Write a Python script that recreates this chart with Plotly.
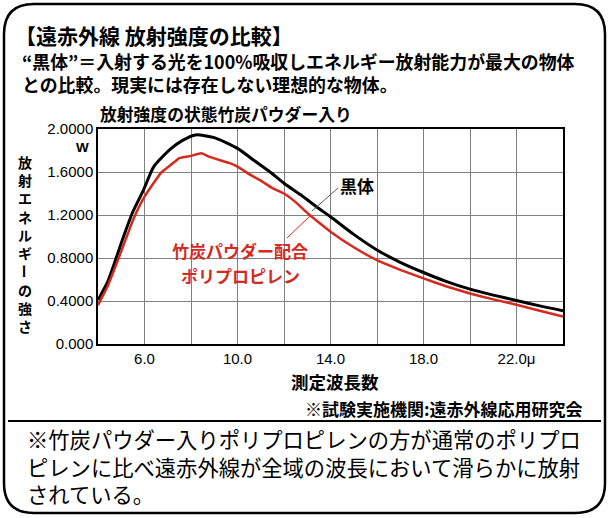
import plotly.graph_objects as go

# ---- data ----
wl_black = [4.0, 4.4, 4.75, 5.1, 5.5, 5.95, 6.4, 7.1, 7.6, 8.2, 9.0, 10.0, 10.7, 11.4,
            12.0, 12.7, 13.5, 14.0, 15.0, 16.0, 17.0, 18.0, 19.0, 20.0, 21.0, 22.0, 23.0, 24.0]
val_black = [0.41, 0.57, 0.78, 1.00, 1.23, 1.43, 1.65, 1.81, 1.89, 1.945, 1.92, 1.82, 1.71, 1.60,
             1.495, 1.39, 1.26, 1.184, 1.02, 0.875, 0.76, 0.665, 0.58, 0.51, 0.455, 0.405, 0.355, 0.31]

wl_red = [4.0, 4.4, 4.75, 5.1, 5.5, 6.0, 6.4, 6.7, 7.1, 7.5, 8.0, 8.45, 8.8, 9.7, 10.0, 10.5,
          11.0, 11.5, 12.0, 12.5, 13.0, 13.5, 14.0, 15.0, 16.0, 17.0, 18.0, 19.0, 20.0, 21.0,
          22.0, 23.0, 24.0]
val_red = [0.36, 0.53, 0.72, 0.92, 1.15, 1.37, 1.50, 1.59, 1.66, 1.73, 1.75, 1.775, 1.74, 1.68,
           1.65, 1.58, 1.52, 1.45, 1.40, 1.32, 1.22, 1.13, 1.045, 0.90, 0.78, 0.69, 0.61, 0.535,
           0.47, 0.415, 0.365, 0.31, 0.255]

x_tickvals = [6, 10, 14, 18, 22]
x_ticktext = ["6.0", "10.0", "14.0", "18.0", "22.0\u03bc"]
x_gridvals = [8, 12, 16, 20]
y_tickvals = [0, 0.4, 0.8, 1.2, 1.6, 2.0]
y_ticktext = ["0.000", "0.4000", "0.8000", "1.2000", "1.6000", "2.0000"]

title_text = "【遠赤外線 放射強度の比較】"
desc_lines = ["“黒体”＝入射する光を100%吸収しエネルギー放射能力が最大の物体",
              "との比較。現実には存在しない理想的な物体。"]
chart_title = "放射強度の状態竹炭パウダー入り"
y_title = "放射エネルギーの強さ"
x_title = "測定波長数"
source_text = "※試験実施機関:遠赤外線応用研究会"
note_lines = ["※竹炭パウダー入りポリプロピレンの方が通常のポリプロ",
              "ピレンに比べ遠赤外線が全域の波長において滑らかに放射",
              "されている。"]
label_black = "黒体"
label_red = ["竹炭パウダー配合", "ポリプロピレン"]

# ---- layout geometry ----
W, H = 610, 518
ML, MR, MT, MB = 98, 47, 129, 174
PW, PH = W - ML - MR, H - MT - MB
JP = "Noto Sans CJK JP"
RED = "#d42a1f"


def px(xp):
    return (xp - ML) / PW


def py(yp):
    return (H - MB - yp) / PH


fig = go.Figure()
fig.add_trace(go.Scatter(x=wl_black, y=val_black, mode="lines",
                         line=dict(color="black", width=3, shape="spline", smoothing=0.6),
                         hoverinfo="skip", showlegend=False))
fig.add_trace(go.Scatter(x=wl_red, y=val_red, mode="lines",
                         line=dict(color=RED, width=2.5, shape="spline", smoothing=0.4),
                         hoverinfo="skip", showlegend=False))

ann = []


def text(xp, yp, t, size, color="black", xanchor="left", bold=False, font=JP, angle=0, align="left"):
    ann.append(dict(x=px(xp), y=py(yp), xref="paper", yref="paper", text=(f"<b>{t}</b>" if bold else t),
                    showarrow=False, xanchor=xanchor, yanchor="middle", textangle=angle, align=align,
                    font=dict(family=font, size=size, color=color)))


text(13, 35, title_text, 21, bold=True)
text(20, 72.5, "<br>".join(desc_lines), 17.9, bold=True)
text(98, 114, chart_title, 16.8, bold=True)
text(91, 147, "<b>W</b>", 13.5, xanchor="right", font="Liberation Sans")

# vertical y-axis title: stacked characters, the long-vowel mark turned upright
YT_SIZE = 14
step = YT_SIZE * 1.3
y0 = 162
dash = y_title.index("ー")
head, tail = y_title[:dash], y_title[dash + 1:]
text(25, y0 + (len(head) - 1) * step / 2, "<br>".join(head), YT_SIZE, xanchor="center", bold=True,
     align="center")
text(25, y0 + dash * step, "ー", YT_SIZE, xanchor="center", bold=True, angle=90)
text(25, y0 + (dash + 1) * step + (len(tail) - 1) * step / 2, "<br>".join(tail), YT_SIZE,
     xanchor="center", bold=True, align="center")

text(335, 381, x_title, 17.5, xanchor="center", bold=True)
text(585, 408, source_text, 17, xanchor="right", bold=True)

text(25, 466, "<br>".join(note_lines), 21.3)

text(357, 185, label_black, 17, xanchor="center", bold=True)
text(240, 250, label_red[0], 17, color=RED, xanchor="center", bold=True)
text(240, 275, label_red[1], 17, color=RED, xanchor="center", bold=True)

shapes = []
# leader lines
shapes.append(dict(type="line", xref="paper", yref="paper", x0=px(338), y0=py(188), x1=px(312), y1=py(211),
                   line=dict(color="#555", width=1)))
shapes.append(dict(type="line", xref="paper", yref="paper", x0=px(287), y0=py(238), x1=px(310), y1=py(216),
                   line=dict(color=RED, width=1)))
# separator rule
shapes.append(dict(type="line", xref="paper", yref="paper", x0=px(8), y0=py(421), x1=px(601), y1=py(421),
                   line=dict(color="black", width=2)))
# rounded outer frame
L, R, T, B, rad = 4, 605, 4, 513, 30
path = (f"M {px(L+rad)},{py(T)} L {px(R-rad)},{py(T)} Q {px(R)},{py(T)} {px(R)},{py(T+rad)} "
        f"L {px(R)},{py(B-rad)} Q {px(R)},{py(B)} {px(R-rad)},{py(B)} "
        f"L {px(L+rad)},{py(B)} Q {px(L)},{py(B)} {px(L)},{py(B-rad)} "
        f"L {px(L)},{py(T+rad)} Q {px(L)},{py(T)} {px(L+rad)},{py(T)} Z")
shapes.append(dict(type="path", xref="paper", yref="paper", path=path,
                   line=dict(color="black", width=2.5)))

fig.update_layout(
    width=W, height=H, margin=dict(l=ML, r=MR, t=MT, b=MB),
    paper_bgcolor="white", plot_bgcolor="white",
    annotations=ann, shapes=shapes, showlegend=False,
    xaxis=dict(range=[4, 24], tickvals=x_tickvals, ticktext=x_ticktext,
               showgrid=True, gridcolor="#808080", gridwidth=1,
               minor=dict(tickvals=x_gridvals, showgrid=True, gridcolor="#808080", gridwidth=1),
               showline=True, linecolor="black", linewidth=1.5, mirror=True,
               ticks="", zeroline=False, fixedrange=True,
               tickfont=dict(family="Liberation Sans", size=15, color="black")),
    yaxis=dict(range=[0, 2.0], tickvals=y_tickvals, ticktext=y_ticktext,
               showgrid=True, gridcolor="#808080", gridwidth=1,
               showline=True, linecolor="black", linewidth=1.5, mirror=True,
               ticks="", zeroline=False, fixedrange=True,
               tickfont=dict(family="Liberation Sans", size=15, color="black")),
)

fig.write_html("out.html", config={"displayModeBar": False},
               post_script="document.body.style.margin='0';document.body.style.overflow='hidden';")
